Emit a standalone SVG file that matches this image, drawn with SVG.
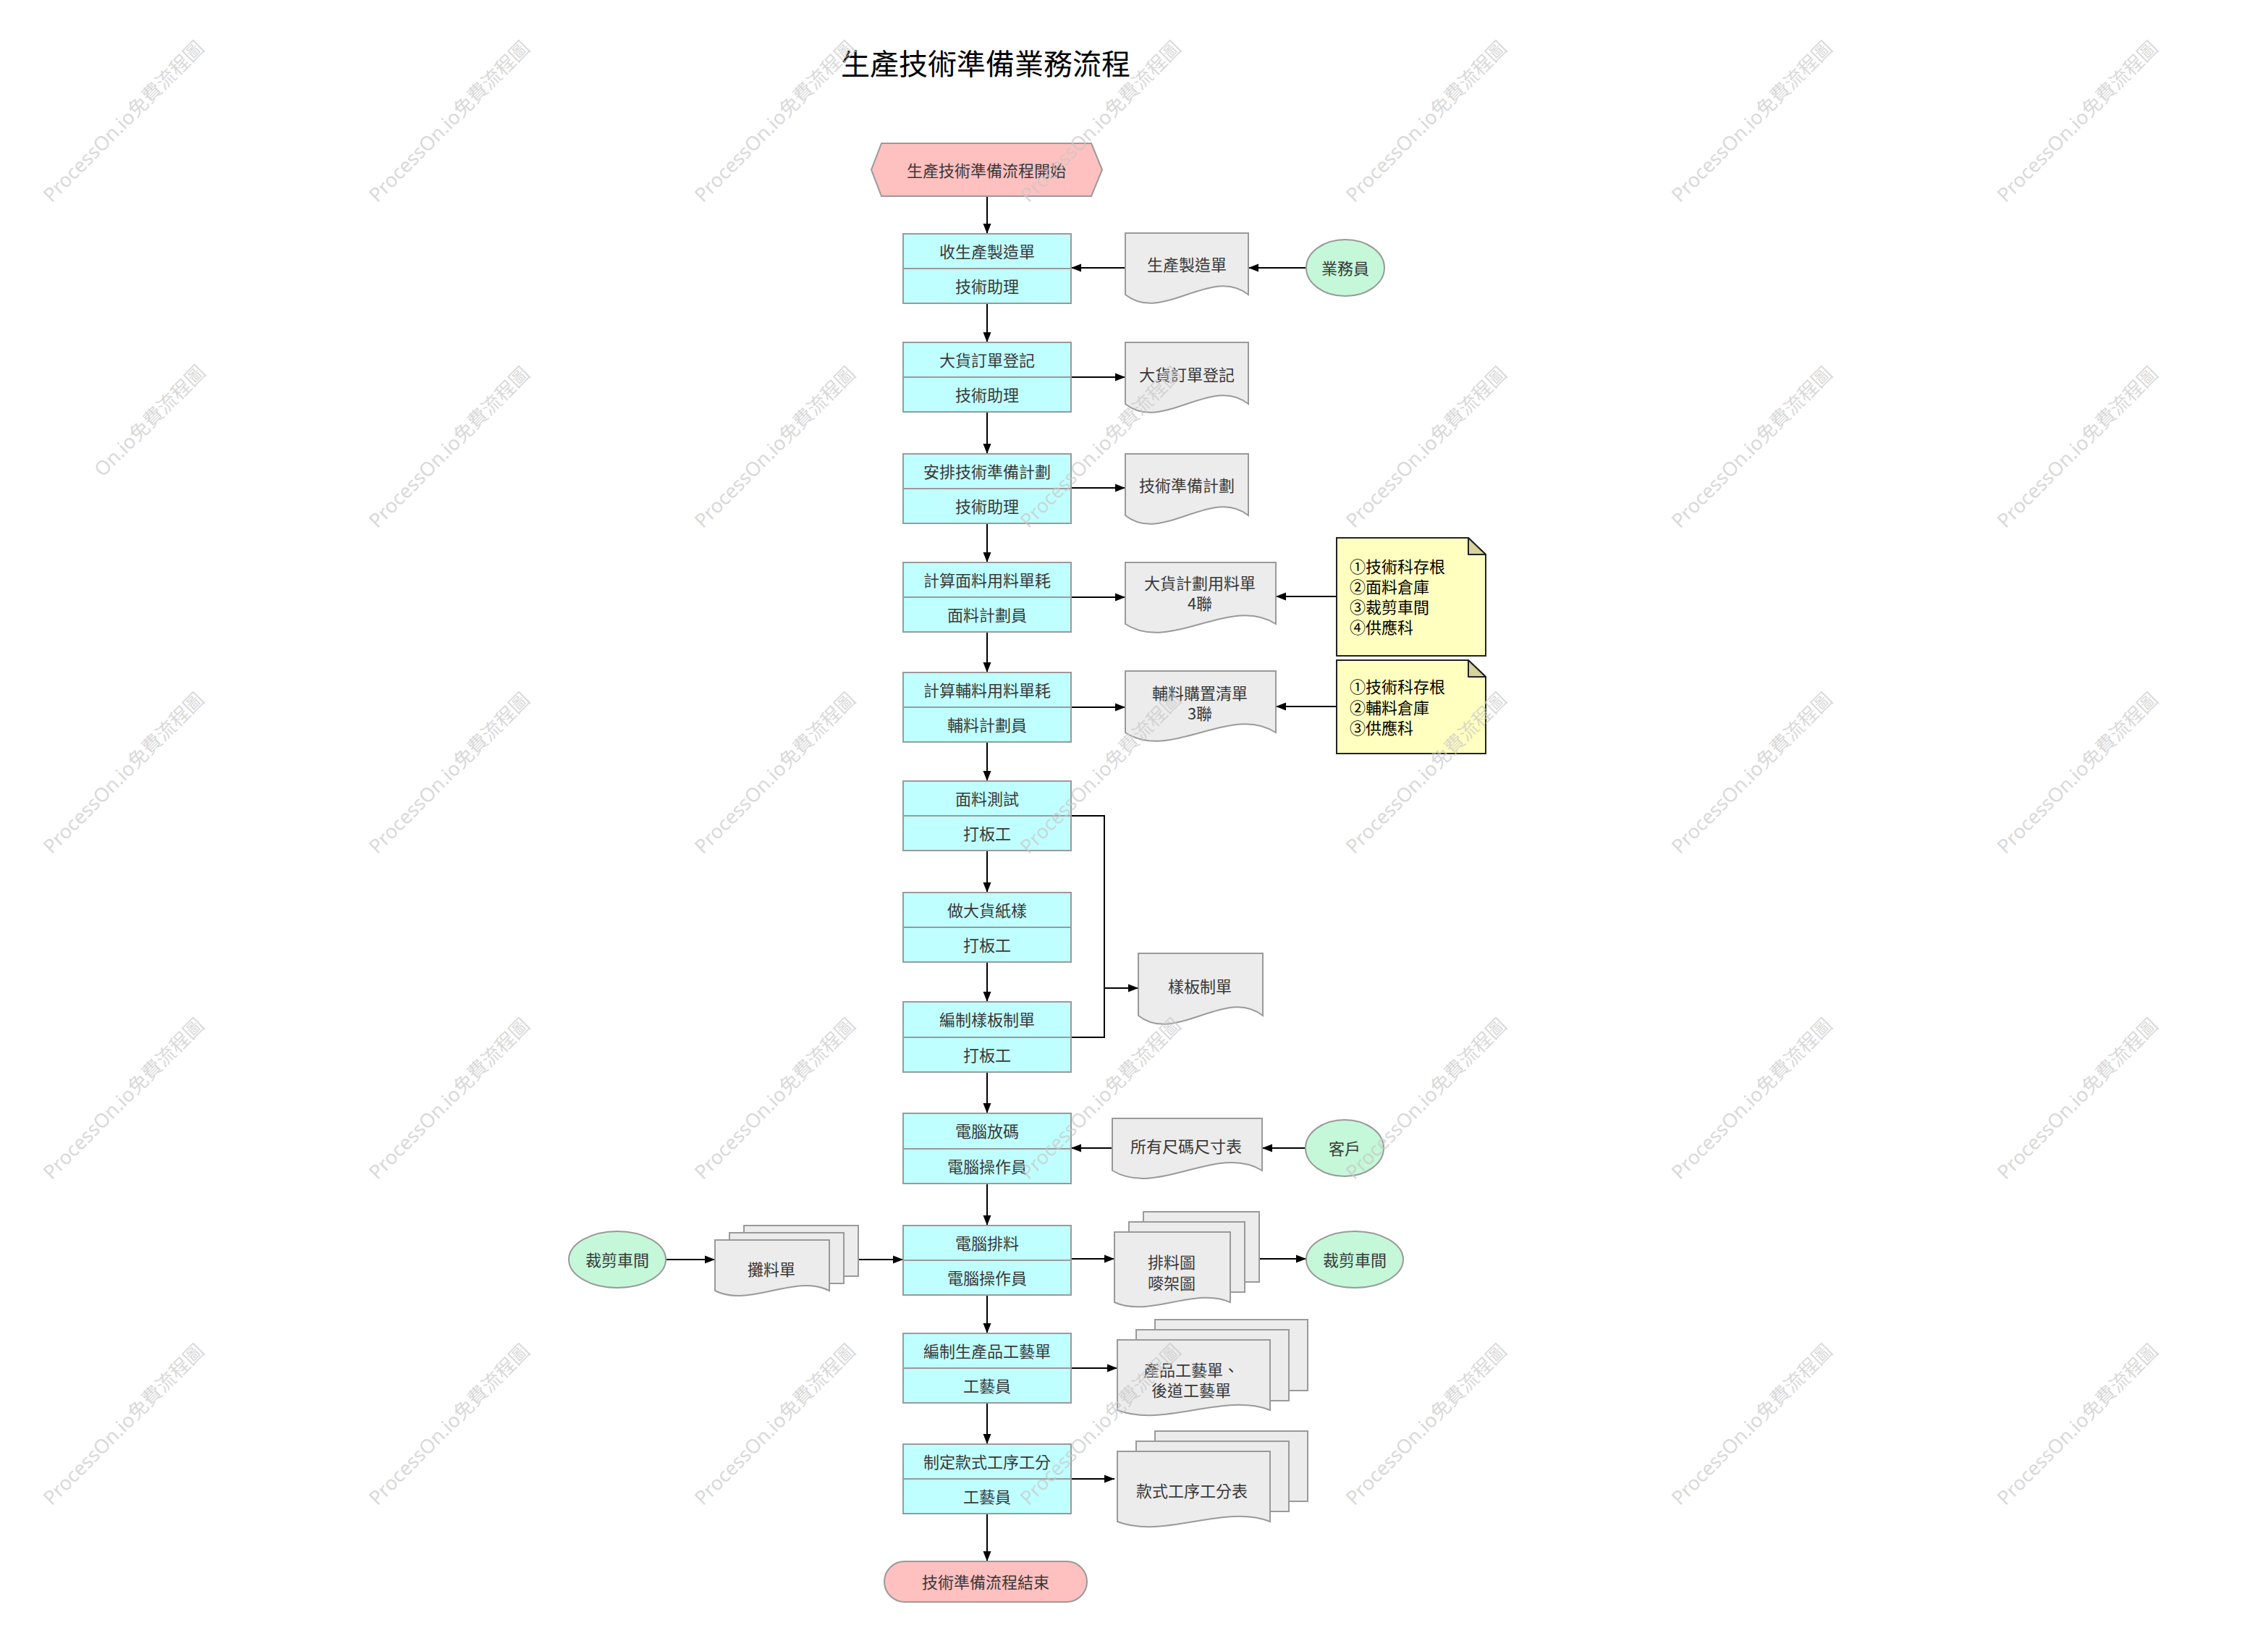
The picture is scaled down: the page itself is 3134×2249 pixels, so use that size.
<svg xmlns="http://www.w3.org/2000/svg" width="3134" height="2249" viewBox="0 0 3134 2249">
<style>
.t{font-family:"Noto Sans CJK TC","Noto Sans CJK SC",sans-serif;font-size:22px;fill:#383838;text-anchor:middle;dominant-baseline:central;transform:translateY(-1.5px)}
.n{font-family:"Noto Sans CJK TC","Noto Sans CJK SC",sans-serif;font-size:22px;fill:#000;dominant-baseline:central;transform:translateY(-1px)}
.title{font-family:"Noto Sans CJK TC","Noto Sans CJK SC",sans-serif;font-size:40px;fill:#000;text-anchor:middle;dominant-baseline:central;transform:translateY(-1.5px)}
.box{fill:#c0ffff;stroke:#9a9a9a;stroke-width:2}
.doc{fill:#ececec;stroke:#9a9a9a;stroke-width:2}
.ell{fill:#c4f8d8;stroke:#9a9a9a;stroke-width:2}
.term{fill:#ffc0c0;stroke:#9a9a9a;stroke-width:2}
.note{fill:#ffffc0;stroke:#222;stroke-width:2}
.fold{fill:#d6d49c;stroke:#222;stroke-width:2;stroke-linejoin:round}
.c{fill:none;stroke:#000;stroke-width:2}
.a{marker-end:url(#arr)}
.wm{font-family:"Noto Sans","Noto Sans CJK TC",sans-serif;font-size:27px;fill:#c8c8c8;fill-opacity:0.7;text-anchor:middle;dominant-baseline:central}
</style>
<defs>
<marker id="arr" markerUnits="userSpaceOnUse" markerWidth="16" markerHeight="12" refX="14" refY="6" orient="auto">
<path d="M0,0.5 L14,6 L0,11.5 Z" fill="#000"/>
</marker>
</defs>
<rect width="3134" height="2249" fill="#fff"/>
<text class="title" x="1362" y="87">生產技術準備業務流程</text>

<g id="connectors">
<path class="c a" d="M1364,271 V323"/>
<path class="c a" d="M1364,419 V473"/>
<path class="c a" d="M1364,569 V627"/>
<path class="c a" d="M1364,723 V777"/>
<path class="c a" d="M1364,873 V929"/>
<path class="c a" d="M1364,1025 V1079"/>
<path class="c a" d="M1364,1175 V1233"/>
<path class="c a" d="M1364,1329 V1384"/>
<path class="c a" d="M1364,1481 V1538"/>
<path class="c a" d="M1364,1635 V1693"/>
<path class="c a" d="M1364,1789 V1842"/>
<path class="c a" d="M1364,1938 V1995"/>
<path class="c a" d="M1364,2091 V2157"/>
<path class="c a" d="M1555,370 H1480"/>
<path class="c a" d="M1804,370 H1725"/>
<path class="c a" d="M1480,521 H1555"/>
<path class="c a" d="M1480,674 H1555"/>
<path class="c a" d="M1480,825 H1555"/>
<path class="c a" d="M1847,824 H1763"/>
<path class="c a" d="M1480,977 H1555"/>
<path class="c a" d="M1847,976 H1763"/>
<path class="c" d="M1480,1127 H1526 V1433 H1480"/>
<path class="c a" d="M1526,1365 H1573"/>
<path class="c a" d="M1537,1586 H1480"/>
<path class="c a" d="M1805,1586 H1744"/>
<path class="c a" d="M919,1740 H988"/>
<path class="c a" d="M1186,1740 H1248"/>
<path class="c a" d="M1480,1739 H1540"/>
<path class="c a" d="M1740,1739 H1805"/>
<path class="c a" d="M1480,1890 H1544"/>
<path class="c a" d="M1476,2043 H1540"/>
</g>

<g id="start">
<polygon class="term" points="1218,198 1508,198 1523,234.5 1508,271 1218,271 1204,234.5"/>
<text class="t" x="1363" y="235">生產技術準備流程開始</text>
</g>

<g id="box1"><rect class="box" x="1248" y="323" width="232" height="96"/><line class="box" x1="1248" y1="371" x2="1480" y2="371"/><text class="t" x="1364" y="347">收生產製造單</text><text class="t" x="1364" y="395">技術助理</text></g>
<g id="box2"><rect class="box" x="1248" y="473" width="232" height="96"/><line class="box" x1="1248" y1="521" x2="1480" y2="521"/><text class="t" x="1364" y="497">大貨訂單登記</text><text class="t" x="1364" y="545">技術助理</text></g>
<g id="box3"><rect class="box" x="1248" y="627" width="232" height="96"/><line class="box" x1="1248" y1="675" x2="1480" y2="675"/><text class="t" x="1364" y="651">安排技術準備計劃</text><text class="t" x="1364" y="699">技術助理</text></g>
<g id="box4"><rect class="box" x="1248" y="777" width="232" height="96"/><line class="box" x1="1248" y1="825" x2="1480" y2="825"/><text class="t" x="1364" y="801">計算面料用料單耗</text><text class="t" x="1364" y="849">面料計劃員</text></g>
<g id="box5"><rect class="box" x="1248" y="929" width="232" height="96"/><line class="box" x1="1248" y1="977" x2="1480" y2="977"/><text class="t" x="1364" y="953">計算輔料用料單耗</text><text class="t" x="1364" y="1001">輔料計劃員</text></g>
<g id="box6"><rect class="box" x="1248" y="1079" width="232" height="96"/><line class="box" x1="1248" y1="1127" x2="1480" y2="1127"/><text class="t" x="1364" y="1103">面料測試</text><text class="t" x="1364" y="1151">打板工</text></g>
<g id="box7"><rect class="box" x="1248" y="1233" width="232" height="96"/><line class="box" x1="1248" y1="1281" x2="1480" y2="1281"/><text class="t" x="1364" y="1257">做大貨紙樣</text><text class="t" x="1364" y="1305">打板工</text></g>
<g id="box8"><rect class="box" x="1248" y="1384" width="232" height="97"/><line class="box" x1="1248" y1="1433" x2="1480" y2="1433"/><text class="t" x="1364" y="1408">編制樣板制單</text><text class="t" x="1364" y="1457">打板工</text></g>
<g id="box9"><rect class="box" x="1248" y="1538" width="232" height="97"/><line class="box" x1="1248" y1="1587" x2="1480" y2="1587"/><text class="t" x="1364" y="1562">電腦放碼</text><text class="t" x="1364" y="1611">電腦操作員</text></g>
<g id="box10"><rect class="box" x="1248" y="1693" width="232" height="96"/><line class="box" x1="1248" y1="1741" x2="1480" y2="1741"/><text class="t" x="1364" y="1717">電腦排料</text><text class="t" x="1364" y="1765">電腦操作員</text></g>
<g id="box11"><rect class="box" x="1248" y="1842" width="232" height="96"/><line class="box" x1="1248" y1="1890" x2="1480" y2="1890"/><text class="t" x="1364" y="1866">編制生產品工藝單</text><text class="t" x="1364" y="1914">工藝員</text></g>
<g id="box12"><rect class="box" x="1248" y="1995" width="232" height="96"/><line class="box" x1="1248" y1="2043" x2="1480" y2="2043"/><text class="t" x="1364" y="2019">制定款式工序工分</text><text class="t" x="1364" y="2067">工藝員</text></g>

<g id="end">
<rect class="term" x="1222" y="2157" width="280" height="56" rx="28" ry="28"/>
<text class="t" x="1362" y="2185">技術準備流程結束</text>
</g>

<g id="doc1"><path class="doc" d="M1555,322 H1725 V407 C1674,366 1606,448 1555,407 Z"/><text class="t" x="1640" y="365">生產製造單</text></g>
<g id="doc2"><path class="doc" d="M1555,473 H1725 V558 C1674,517 1606,599 1555,558 Z"/><text class="t" x="1640" y="517">大貨訂單登記</text></g>
<g id="doc3"><path class="doc" d="M1555,627 H1725 V712 C1674,671 1606,753 1555,712 Z"/><text class="t" x="1640" y="670">技術準備計劃</text></g>
<g id="doc4"><path class="doc" d="M1555,777 H1763 V862 C1700.6,821 1617.4,903 1555,862 Z"/><text class="t" x="1658" y="805">大貨計劃用料單</text><text class="t" x="1658" y="833">4聯</text></g>
<g id="doc5"><path class="doc" d="M1555,927 H1763 V1012 C1700.6,971 1617.4,1053 1555,1012 Z"/><text class="t" x="1658" y="957">輔料購置清單</text><text class="t" x="1658" y="985">3聯</text></g>
<g id="doc6"><path class="doc" d="M1573,1317 H1745 V1403 C1693.4,1362 1624.6,1444 1573,1403 Z"/><text class="t" x="1658" y="1362">樣板制單</text></g>
<g id="doc7"><path class="doc" d="M1537,1545 H1744 V1617 C1681.9,1579 1599.1,1655 1537,1617 Z"/><text class="t" x="1639" y="1583">所有尺碼尺寸表</text></g>

<g id="doc8">
<rect class="doc" x="1028" y="1693" width="158" height="70"/>
<rect class="doc" x="1008" y="1703" width="158" height="70"/>
<path class="doc" d="M988,1713 H1146 V1783 C1098.6,1759 1035.4,1807 988,1783 Z"/>
<text class="t" x="1066" y="1753">攤料單</text>
</g>
<g id="doc9">
<rect class="doc" x="1580" y="1674" width="160" height="97"/>
<rect class="doc" x="1560" y="1688" width="160" height="97"/>
<path class="doc" d="M1540,1702 H1700 V1799 C1652,1777 1588,1821 1540,1799 Z"/>
<text class="t" x="1619" y="1743">排料圖</text>
<text class="t" x="1619" y="1772">嘜架圖</text>
</g>
<g id="doc10">
<rect class="doc" x="1596" y="1823" width="211" height="98"/>
<rect class="doc" x="1570" y="1837" width="211" height="98"/>
<path class="doc" d="M1544,1851 H1755 V1948 C1691.7,1923 1607.3,1973 1544,1948 Z"/>
<text class="t" x="1646" y="1892">產品工藝單、</text>
<text class="t" x="1646" y="1920">後道工藝單</text>
</g>
<g id="doc11">
<rect class="doc" x="1596" y="1977" width="211" height="97"/>
<rect class="doc" x="1570" y="1991" width="211" height="97"/>
<path class="doc" d="M1544,2005 H1755 V2102 C1691.7,2077 1607.3,2127 1544,2102 Z"/>
<text class="t" x="1647" y="2059">款式工序工分表</text>
</g>

<g id="note1">
<path class="note" d="M1847,743 H2029 L2053,766 V906 H1847 Z"/>
<path class="fold" d="M2029,743 V766 H2053 Z"/>
<text class="n" x="1865" y="782">①技術科存根</text>
<text class="n" x="1865" y="810">②面料倉庫</text>
<text class="n" x="1865" y="838">③裁剪車間</text>
<text class="n" x="1865" y="866">④供應科</text>
</g>
<g id="note2">
<path class="note" d="M1847,912 H2029 L2053,935 V1041 H1847 Z"/>
<path class="fold" d="M2029,912 V935 H2053 Z"/>
<text class="n" x="1865" y="948">①技術科存根</text>
<text class="n" x="1865" y="977">②輔料倉庫</text>
<text class="n" x="1865" y="1005">③供應科</text>
</g>

<g id="actor1"><ellipse class="ell" cx="1859" cy="370" rx="54" ry="39"/><text class="t" x="1859" y="370">業務員</text></g>
<g id="actor2"><ellipse class="ell" cx="1858" cy="1586" rx="54" ry="39"/><text class="t" x="1858" y="1586">客戶</text></g>
<g id="actor3"><ellipse class="ell" cx="853" cy="1740" rx="67" ry="39"/><text class="t" x="853" y="1740">裁剪車間</text></g>
<g id="actor4"><ellipse class="ell" cx="1872" cy="1740" rx="67" ry="39"/><text class="t" x="1872" y="1740">裁剪車間</text></g>

<g id="watermarks">
<text class="wm" transform="translate(170,167) rotate(-45)">ProcessOn.io免費流程圖</text>
<text class="wm" transform="translate(620,167) rotate(-45)">ProcessOn.io免費流程圖</text>
<text class="wm" transform="translate(1070,167) rotate(-45)">ProcessOn.io免費流程圖</text>
<text class="wm" transform="translate(1520,167) rotate(-45)">ProcessOn.io免費流程圖</text>
<text class="wm" transform="translate(1970,167) rotate(-45)">ProcessOn.io免費流程圖</text>
<text class="wm" transform="translate(2420,167) rotate(-45)">ProcessOn.io免費流程圖</text>
<text class="wm" transform="translate(2870,167) rotate(-45)">ProcessOn.io免費流程圖</text>
<text class="wm" transform="translate(170,617) rotate(-45)" x="153" style="text-anchor:end">On.io免費流程圖</text>
<text class="wm" transform="translate(620,617) rotate(-45)">ProcessOn.io免費流程圖</text>
<text class="wm" transform="translate(1070,617) rotate(-45)">ProcessOn.io免費流程圖</text>
<text class="wm" transform="translate(1520,617) rotate(-45)">ProcessOn.io免費流程圖</text>
<text class="wm" transform="translate(1970,617) rotate(-45)">ProcessOn.io免費流程圖</text>
<text class="wm" transform="translate(2420,617) rotate(-45)">ProcessOn.io免費流程圖</text>
<text class="wm" transform="translate(2870,617) rotate(-45)">ProcessOn.io免費流程圖</text>
<text class="wm" transform="translate(170,1067) rotate(-45)">ProcessOn.io免費流程圖</text>
<text class="wm" transform="translate(620,1067) rotate(-45)">ProcessOn.io免費流程圖</text>
<text class="wm" transform="translate(1070,1067) rotate(-45)">ProcessOn.io免費流程圖</text>
<text class="wm" transform="translate(1520,1067) rotate(-45)">ProcessOn.io免費流程圖</text>
<text class="wm" transform="translate(1970,1067) rotate(-45)">ProcessOn.io免費流程圖</text>
<text class="wm" transform="translate(2420,1067) rotate(-45)">ProcessOn.io免費流程圖</text>
<text class="wm" transform="translate(2870,1067) rotate(-45)">ProcessOn.io免費流程圖</text>
<text class="wm" transform="translate(170,1517) rotate(-45)">ProcessOn.io免費流程圖</text>
<text class="wm" transform="translate(620,1517) rotate(-45)">ProcessOn.io免費流程圖</text>
<text class="wm" transform="translate(1070,1517) rotate(-45)">ProcessOn.io免費流程圖</text>
<text class="wm" transform="translate(1520,1517) rotate(-45)">ProcessOn.io免費流程圖</text>
<text class="wm" transform="translate(1970,1517) rotate(-45)">ProcessOn.io免費流程圖</text>
<text class="wm" transform="translate(2420,1517) rotate(-45)">ProcessOn.io免費流程圖</text>
<text class="wm" transform="translate(2870,1517) rotate(-45)">ProcessOn.io免費流程圖</text>
<text class="wm" transform="translate(170,1967) rotate(-45)">ProcessOn.io免費流程圖</text>
<text class="wm" transform="translate(620,1967) rotate(-45)">ProcessOn.io免費流程圖</text>
<text class="wm" transform="translate(1070,1967) rotate(-45)">ProcessOn.io免費流程圖</text>
<text class="wm" transform="translate(1520,1967) rotate(-45)">ProcessOn.io免費流程圖</text>
<text class="wm" transform="translate(1970,1967) rotate(-45)">ProcessOn.io免費流程圖</text>
<text class="wm" transform="translate(2420,1967) rotate(-45)">ProcessOn.io免費流程圖</text>
<text class="wm" transform="translate(2870,1967) rotate(-45)">ProcessOn.io免費流程圖</text>
</g>
</svg>
